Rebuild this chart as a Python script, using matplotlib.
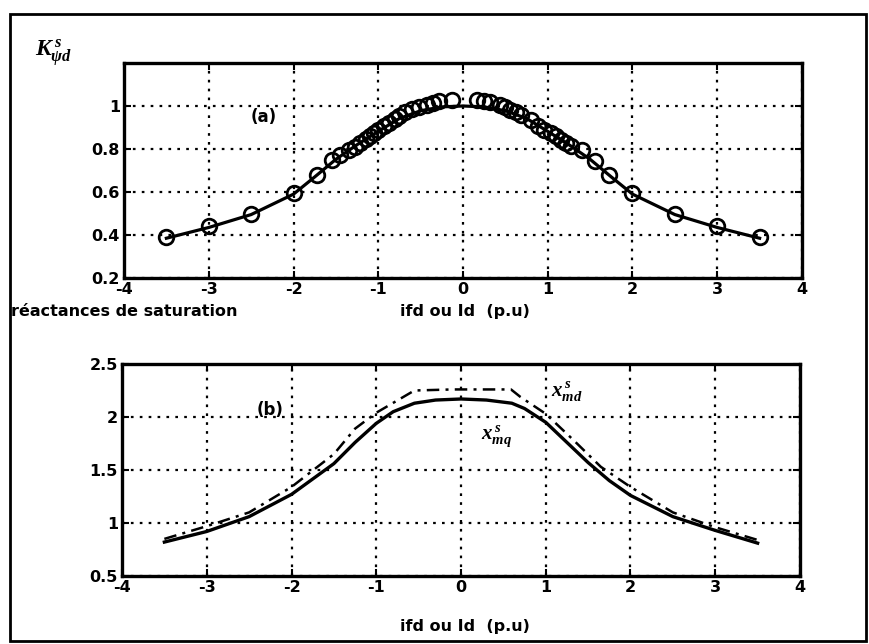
import matplotlib
matplotlib.use("Agg")
import matplotlib.pyplot as plt
from matplotlib.patches import Rectangle

plt.rcParams['axes.unicode_minus'] = False
plt.rcParams['font.family'] = ['DejaVu Sans']
plt.rcParams['mathtext.fontset'] = 'custom'
plt.rcParams['mathtext.it'] = 'Liberation Serif:italic:bold'
plt.rcParams['mathtext.rm'] = 'Liberation Serif:bold'

# ---- data (a) ----
k_pts_x = [-3.5, -3.0, -2.5, -2.0, -1.72, -1.55, -1.45, -1.35, -1.28, -1.22, -1.15, -1.1, -1.05,
           -1.0, -0.93, -0.87, -0.8, -0.75, -0.68, -0.6, -0.52, -0.43, -0.35, -0.28, -0.13,
           0.17, 0.25, 0.32, 0.44, 0.5, 0.56, 0.62, 0.68, 0.8, 0.89, 0.96, 1.04, 1.1, 1.16, 1.22,
           1.28, 1.4, 1.56, 1.72, 2.0, 2.5, 3.0, 3.5]
k_pts_y = [0.39, 0.44, 0.50, 0.595, 0.68, 0.75, 0.77, 0.795, 0.81, 0.83, 0.845, 0.86, 0.875,
           0.89, 0.905, 0.92, 0.94, 0.955, 0.97, 0.985, 0.995, 1.005, 1.015, 1.025, 1.03,
           1.03, 1.025, 1.02, 1.005, 0.995, 0.98, 0.97, 0.96, 0.935, 0.905, 0.89, 0.875, 0.86,
           0.84, 0.83, 0.815, 0.795, 0.745, 0.68, 0.595, 0.50, 0.44, 0.39]
k_line_x = [-3.5, -3.0, -2.5, -2.0, -1.75, -1.5, -1.25, -1.0, -0.75, -0.5, -0.25, 0.0,
            0.25, 0.5, 0.75, 1.0, 1.25, 1.5, 1.75, 2.0, 2.5, 3.0, 3.5]
k_line_y = [0.385, 0.435, 0.495, 0.59, 0.67, 0.752, 0.82, 0.882, 0.942, 0.978, 0.996, 1.0,
            0.996, 0.978, 0.942, 0.882, 0.82, 0.752, 0.67, 0.59, 0.495, 0.435, 0.385]

# ---- data (b) ----
xmq_x = [-3.5, -3.0, -2.5, -2.0, -1.5, -1.25, -1.0, -0.8, -0.55, -0.3, 0.0, 0.3, 0.6, 0.75,
         1.0, 1.25, 1.5, 1.75, 2.0, 2.5, 3.0, 3.5]
xmq_y = [0.82, 0.92, 1.06, 1.27, 1.56, 1.76, 1.94, 2.05, 2.13, 2.16, 2.17, 2.16, 2.13, 2.08,
         1.95, 1.76, 1.57, 1.40, 1.26, 1.06, 0.93, 0.81]
xmd_x = [-3.5, -3.0, -2.5, -2.0, -1.5, -1.25, -1.0, -0.7, -0.55, -0.1, 0.15, 0.59, 0.7, 1.0,
         1.33, 1.65, 2.0, 2.5, 3.0, 3.5]
xmd_y = [0.85, 0.97, 1.10, 1.34, 1.65, 1.89, 2.04, 2.18, 2.25, 2.26, 2.26, 2.26, 2.19, 2.03,
         1.78, 1.53, 1.34, 1.10, 0.96, 0.84]

x_ticks = [-4, -3, -2, -1, 0, 1, 2, 3, 4]
ya_ticks = [0.2, 0.4, 0.6, 0.8, 1.0]
ya_labels = ['0.2', '0.4', '0.6', '0.8', '1']
yb_ticks = [0.5, 1.0, 1.5, 2.0, 2.5]
yb_labels = ['0.5', '1', '1.5', '2', '2.5']

W, H = 870, 644
fig = plt.figure(figsize=(W / 100, H / 100), dpi=100)

def fx(px):
    return px / W

def fy(py):
    return 1 - py / H

ax1 = fig.add_axes([fx(124), fy(278), fx(802) - fx(124), fy(63) - fy(278)])
ax2 = fig.add_axes([fx(122), fy(576), fx(800) - fx(122), fy(364) - fy(576)])

tfont = dict(fontsize=11.5, fontweight='bold')

for ax in (ax1, ax2):
    ax.set_xlim(-4, 4)
    ax.set_xticks(x_ticks)
    ax.set_xticklabels([str(t) for t in x_ticks], **tfont)
    ax.grid(True, color='black', linestyle=(0, (1.2, 2.8)), linewidth=1.6)
    ax.tick_params(direction='in', length=5, width=1.5, top=True, right=True, pad=3)
    for s in ax.spines.values():
        s.set_linewidth(2.4)

ax1.set_ylim(0.2, 1.2)
ax1.set_yticks(ya_ticks)
ax1.set_yticklabels(ya_labels, **tfont)
ax1.plot(k_line_x, k_line_y, color='black', linewidth=2.3, zorder=3)
ax1.plot(k_pts_x, k_pts_y, 'o', markerfacecolor='none', markeredgecolor='black',
         markersize=10.5, markeredgewidth=2.0, zorder=4)
ax1.text(-2.35, 0.95, '(a)', fontsize=12, fontweight='bold', ha='center', va='center')

ax2.set_ylim(0.5, 2.5)
ax2.set_yticks(yb_ticks)
ax2.set_yticklabels(yb_labels, **tfont)
ax2.plot(xmq_x, xmq_y, color='black', linewidth=2.4, zorder=3)
ax2.plot(xmd_x, xmd_y, color='black', linewidth=1.8, linestyle=(0, (5, 2.5, 1.2, 2.5)), zorder=3)
ax2.text(-2.25, 2.07, '(b)', fontsize=12, fontweight='bold', ha='center', va='center')
ax2.text(1.25, 2.24, r'$x^{\,s}_{md}$', fontsize=15, ha='center', va='center')
ax2.text(0.42, 1.82, r'$x^{\,s}_{mq}$', fontsize=15, ha='center', va='center')

fig.text(fx(35), fy(53), r'$K^{\,s}_{\psi d}$', fontsize=17, ha='left', va='center')
fig.text(fx(11), fy(311), 'réactances de saturation', ha='left', va='center', **tfont)
fig.text(fx(465), fy(311), 'ifd ou Id  (p.u)', ha='center', va='center', **tfont)
fig.text(fx(465), fy(627), 'ifd ou Id  (p.u)', ha='center', va='center', **tfont)

fig.patches.append(Rectangle((fx(10), fy(641)), fx(866) - fx(10), fy(14) - fy(641),
                             transform=fig.transFigure, fill=False, edgecolor='black',
                             linewidth=2.0))

fig.savefig('out.png', dpi=100)
